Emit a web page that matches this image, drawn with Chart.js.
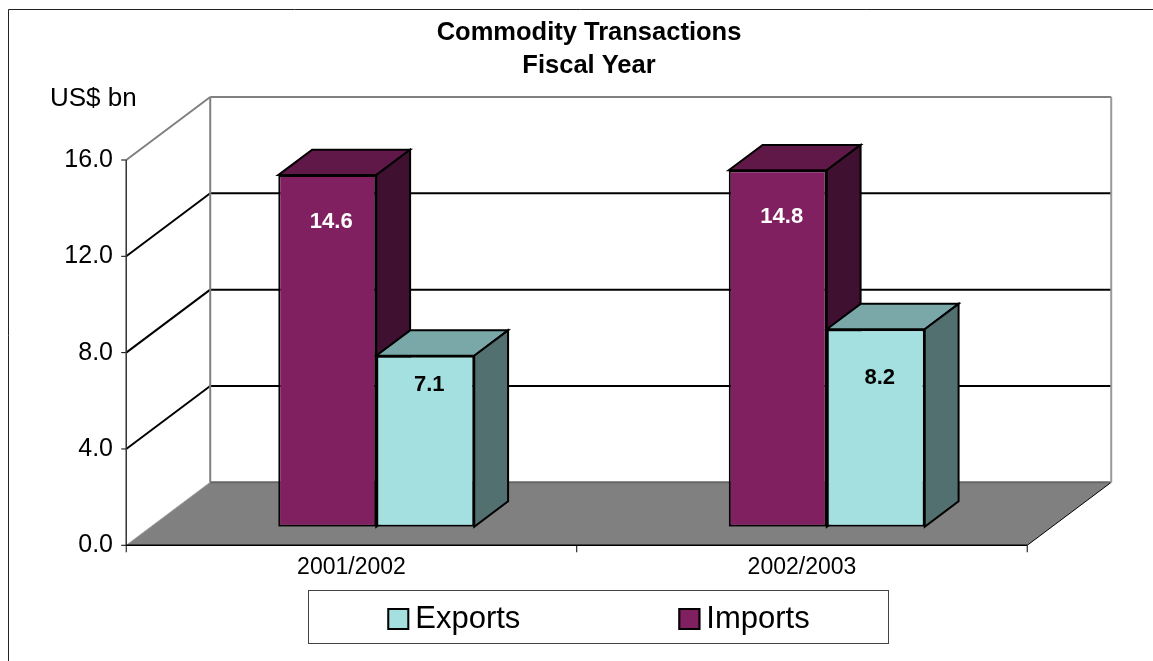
<!DOCTYPE html>
<html>
<head>
<meta charset="utf-8">
<title>Commodity Transactions</title>
<script src="https://cdn.jsdelivr.net/npm/chart.js@4.4.1/dist/chart.umd.min.js"></script>
<style>
  body { margin: 0; background: #fff; }
  canvas { display: block; }
</style>
</head>
<body>
<canvas id="chart_trade" width="1153" height="661"></canvas>
<script>
const categories = ["2001/2002", "2002/2003"];
const imports_list = [14.6, 14.8];
const exports_list = [7.1, 8.2];
const y_ticks = [0, 4, 8, 12, 16];
const title_lines = ["Commodity Transactions", "Fiscal Year"];
const unit_label = "US$ bn";

const FONT = "'Liberation Sans', Arial, sans-serif";
Chart.defaults.font.family = FONT;
Chart.defaults.color = "#000";

// depth of the 3d box: t=0 is the front edge of the floor, t=1 the back wall
const DEPTH_X = 84, DEPTH_Y = 63;
const BAR_FRONT = 0.295, BAR_BACK = 0.698;

// chart area is the plane of the bar fronts, shift a point to depth t
function proj(x, y, t) {
  return [x + (t - BAR_FRONT) * DEPTH_X, y - (t - BAR_FRONT) * DEPTH_Y];
}

function line(ctx, a, b, color, width) {
  ctx.beginPath();
  ctx.moveTo(a[0], a[1]);
  ctx.lineTo(b[0], b[1]);
  ctx.strokeStyle = color;
  ctx.lineWidth = width;
  ctx.stroke();
}

function poly(ctx, pts, fill, stroke, width) {
  ctx.beginPath();
  ctx.moveTo(pts[0][0], pts[0][1]);
  for (let i = 1; i < pts.length; i++) ctx.lineTo(pts[i][0], pts[i][1]);
  ctx.closePath();
  ctx.fillStyle = fill;
  ctx.fill();
  if (stroke) {
    ctx.strokeStyle = stroke;
    ctx.lineWidth = width;
    ctx.stroke();
  }
}

const frame3d = {
  id: "frame3d",
  beforeDraw(chart) {
    const ctx = chart.ctx;
    ctx.save();
    ctx.fillStyle = "#fff";
    ctx.fillRect(0, 0, chart.width, chart.height);
    ctx.strokeStyle = "#222";
    ctx.lineWidth = 1;
    ctx.beginPath();
    ctx.moveTo(8.5, chart.height);
    ctx.lineTo(8.5, 9.5);
    ctx.lineTo(chart.width, 9.5);
    ctx.stroke();
    ctx.restore();
  },
  beforeDatasetsDraw(chart) {
    const {ctx, chartArea, scales} = chart;
    const xs = scales.x, ys = scales.y;
    const L = chartArea.left, R = chartArea.right;
    const top_val = y_ticks[y_ticks.length - 1];
    const y0 = ys.getPixelForValue(0), yTop = ys.getPixelForValue(top_val);
    ctx.save();
    ctx.lineJoin = "miter";

    // floor
    poly(ctx, [proj(L, y0, 0), proj(R, y0, 0), proj(R, y0, 1), proj(L, y0, 1)], "#808080");
    line(ctx, proj(L, y0, 0), proj(L, y0, 1), "#a0a0a0", 1);
    line(ctx, proj(R, y0, 0), proj(R, y0, 1), "#000", 1);
    line(ctx, proj(L, y0, 1), proj(R, y0, 1), "#666", 2);

    // back wall gridlines and left wall diagonals
    y_ticks.forEach(v => {
      const py = ys.getPixelForValue(v);
      if (v > 0) {
        const c = v === top_val ? "#808080" : "#000";
        line(ctx, proj(L, py, 1), proj(R, py, 1), c, 2);
        line(ctx, proj(L, py, 0), proj(L, py, 1), c, 2);
      }
      const f = proj(L, py, 0);
      line(ctx, [f[0] - 5, f[1]], f, "#000", 1);
    });
    line(ctx, proj(L, y0, 1), proj(L, yTop, 1), "#808080", 2);
    line(ctx, proj(R, y0, 1), proj(R, yTop, 1), "#999", 2);

    // front axes
    line(ctx, proj(L, y0, 0), proj(L, yTop, 0), "#333", 1.5);
    line(ctx, proj(L, y0, 0), proj(R, y0, 0), "#000", 1.5);
    for (let k = 0; k <= categories.length; k++) {
      const f = proj(xs.getPixelForValue(k - 0.5), y0, 0);
      line(ctx, f, [f[0], f[1] + 7], "#000", 1);
    }

    // top and side faces of the bars, left to right
    const dx = (BAR_BACK - BAR_FRONT) * DEPTH_X, dy = (BAR_BACK - BAR_FRONT) * DEPTH_Y;
    categories.forEach((c, i) => {
      chart.data.datasets.forEach((ds, di) => {
        const bar = chart.getDatasetMeta(di).data[i];
        const p = bar.getProps(["x", "y", "base", "width"], true);
        const x0 = p.x - p.width / 2, x1 = p.x + p.width / 2;
        poly(ctx, [[x0, p.y], [x1, p.y], [x1 + dx, p.y - dy], [x0 + dx, p.y - dy]], ds.topColor, "#000", 2);
        poly(ctx, [[x1, p.y], [x1 + dx, p.y - dy], [x1 + dx, p.base - dy], [x1, p.base]], ds.sideColor, "#000", 2);
      });
    });
    ctx.restore();
  },
  afterDatasetsDraw(chart) {
    const ctx = chart.ctx;
    ctx.save();
    ctx.font = "bold 22px " + FONT;
    ctx.textAlign = "center";
    ctx.textBaseline = "middle";
    chart.data.datasets.forEach((ds, di) => {
      chart.getDatasetMeta(di).data.forEach((bar, i) => {
        ctx.fillStyle = ds.labelColor;
        ctx.fillText(ds.data[i].toFixed(1), bar.x + 4, bar.y + ds.labelDrop[i]);
      });
    });
    ctx.restore();
  },
  afterDraw(chart) {
    const ctx = chart.ctx;
    ctx.save();
    ctx.fillStyle = "#000";
    ctx.textBaseline = "middle";

    // title
    ctx.font = "bold 25.5px " + FONT;
    ctx.textAlign = "center";
    title_lines.forEach((t, i) => ctx.fillText(t, 589, 33 + i * 33));

    // unit label
    ctx.font = "26px " + FONT;
    ctx.textAlign = "left";
    ctx.fillText(unit_label, 50, 99);

    // legend box, series in reverse order like the original
    const items = chart.data.datasets.slice().reverse();
    ctx.font = "31px " + FONT;
    const sw = 22, gap = 6, itemGap = 158;
    const widths = items.map(d => ctx.measureText(d.label).width);
    const total = widths.reduce((a, w) => a + w + sw + gap, 0) + itemGap * (items.length - 1);
    const box = {left: 308.5, top: 590.5, width: 580, height: 53};
    ctx.strokeStyle = "#444";
    ctx.lineWidth = 1;
    ctx.strokeRect(box.left, box.top, box.width, box.height);
    const cy = 619;
    let xpos = box.left + box.width / 2 - total / 2;
    items.forEach((d, i) => {
      ctx.fillStyle = d.backgroundColor;
      ctx.fillRect(xpos, cy - sw / 2, sw, sw);
      ctx.strokeStyle = "#000";
      ctx.lineWidth = 2;
      ctx.strokeRect(xpos + 1, cy - sw / 2 + 1, sw - 2, sw - 2);
      ctx.fillStyle = "#000";
      ctx.fillText(d.label, xpos + sw + gap, cy);
      xpos += sw + gap + widths[i] + itemGap;
    });
    ctx.restore();
  }
};

const chart = document.getElementById("chart_trade").getContext("2d");

new Chart(chart, {
  type: "bar",
  data: {
    labels: categories,
    datasets: [
      {
        label: "Imports",
        data: imports_list,
        backgroundColor: "#802060",
        topColor: "#601848",
        sideColor: "#401030",
        labelColor: "#fff",
        labelDrop: [47, 47],
        borderColor: "#000",
        borderWidth: 2,
        borderSkipped: false,
      },
      {
        label: "Exports",
        data: exports_list,
        backgroundColor: "#A4E0E0",
        topColor: "#7AA8A8",
        sideColor: "#527070",
        labelColor: "#000",
        labelDrop: [29, 49],
        borderColor: "#000",
        borderWidth: 2,
        borderSkipped: false,
      },
    ],
  },
  options: {
    responsive: false,
    animation: false,
    layout: {
      padding: { left: 40, right: 101, top: 141.4, bottom: 74.3 },
    },
    datasets: {
      bar: { categoryPercentage: 0.435, barPercentage: 1 },
    },
    plugins: {
      legend: { display: false },
      tooltip: { enabled: false },
      title: { display: false },
    },
    scales: {
      x: {
        grid: { display: false, drawTicks: false },
        border: { display: false },
        ticks: { padding: 27, labelOffset: -24.8, font: { size: 23 }, color: "#000" },
        afterFit: s => { s.height = 60; },
      },
      y: {
        min: 0,
        max: 16,
        afterBuildTicks: s => { s.ticks = y_ticks.map(v => ({ value: v })); },
        grid: { display: false, drawTicks: false },
        border: { display: false },
        ticks: {
          padding: 38,
          labelOffset: 18.6,
          font: { size: 25 },
          color: "#000",
          callback: v => v.toFixed(1),
        },
        afterFit: s => { s.width = 111; },
      },
    },
  },
  plugins: [frame3d],
});
</script>
</body>
</html>
